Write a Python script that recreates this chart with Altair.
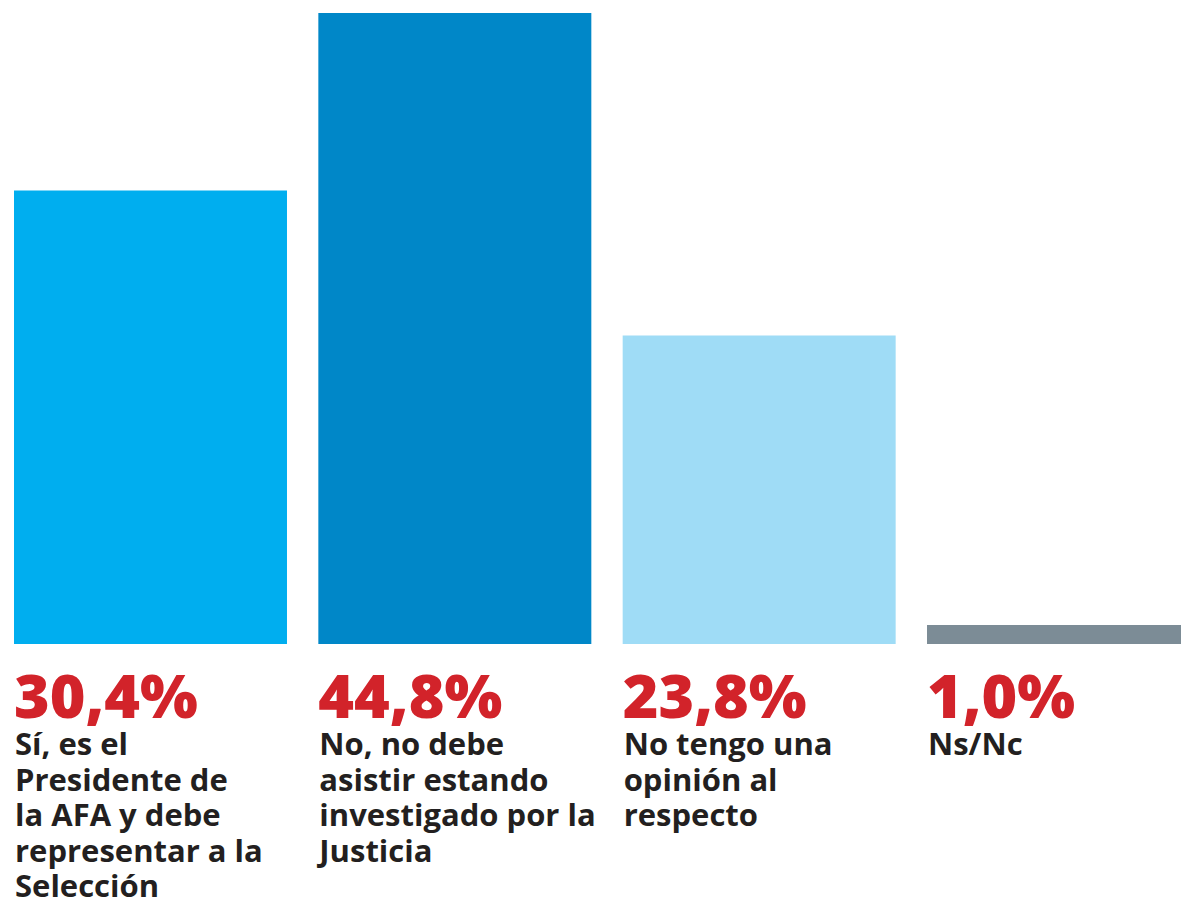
import altair as alt
import pandas as pd

categories = ["A", "B", "C", "D"]
# bar heights as drawn in the picture (not proportional to labels)
bar_heights = [32.2, 44.8, 21.9, 1.35]
pct_labels = ["30,4%", "44,8%", "23,8%", "1,0%"]
descriptions = [
    ["Sí, es el", "Presidente de", "la AFA y debe", "representar a la", "Selección"],
    ["No, no debe", "asistir estando", "investigado por la", "Justicia"],
    ["No tengo una", "opinión al", "respecto"],
    ["Ns/Nc"],
]
colors = ["#00AEEF", "#0087C8", "#9FDCF6", "#7C8C96"]

df = pd.DataFrame({
    "cat": categories,
    "h": bar_heights,
    "pct": pct_labels,
    "desc": descriptions,
})

xscale = alt.Scale(domain=categories, range=[0, 1186], paddingInner=0.103, paddingOuter=0)
yscale = alt.Scale(domain=[0, 44.8], range=[631, 0], nice=False, zero=True)

base = alt.Chart(df)

bars = base.mark_bar(clip=True).encode(
    x=alt.X("cat:N", scale=xscale, axis=None),
    y=alt.Y("h:Q", scale=yscale, axis=None),
    color=alt.Color("cat:N", scale=alt.Scale(domain=categories, range=colors), legend=None),
)

pct = base.mark_text(
    align="left", baseline="alphabetic", font="Open Sans", fontWeight=800,
    fontSize=61, color="#D2232A", dx=0,
).encode(
    x=alt.X("cat:N", scale=xscale, bandPosition=0),
    y=alt.value(705),
    text="pct:N",
)

desc = base.mark_text(
    align="left", baseline="alphabetic", font="Open Sans", fontWeight="bold",
    fontSize=31, color="#231F20", lineHeight=35.5, dx=1,
).encode(
    x=alt.X("cat:N", scale=xscale, bandPosition=0),
    y=alt.value(742),
    text="desc",
)

chart = alt.layer(bars, pct, desc).properties(
    width=1167,
    height=631,
    background="white",
    autosize=alt.AutoSizeParams(type="none"),
    padding={"left": 6, "top": 5, "right": 0, "bottom": 255},
).configure_view(stroke=None)

chart.save("out.html", embed_options={"renderer": "svg", "actions": False})
